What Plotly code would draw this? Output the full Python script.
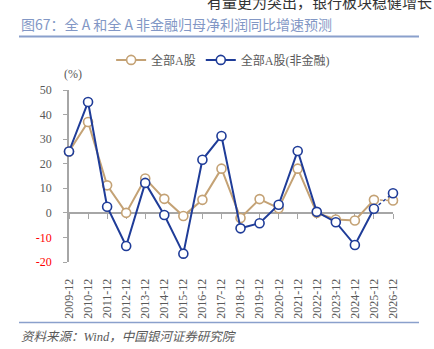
import plotly.graph_objects as go

categories = ["2009-12", "2010-12", "2011-12", "2012-12", "2013-12", "2014-12",
              "2015-12", "2016-12", "2017-12", "2018-12", "2019-12", "2020-12",
              "2021-12", "2022-12", "2023-12", "2024-12", "2025-12", "2026-12"]
all_a = [25.0, 37.0, 11.2, 0.0, 14.0, 5.7, -1.3, 5.3, 18.0, -2.1, 5.6, 1.9,
         18.0, 0.0, -2.7, -3.1, 5.3, 5.0]
all_a_nonfin = [25.0, 45.1, 2.5, -13.5, 12.2, -0.9, -16.6, 21.6, 31.3, -6.3, -4.2, 3.3,
                25.2, 0.4, -3.8, -13.1, 1.7, 8.0]
y_ticks = [50, 40, 30, 20, 10, 0, -10, -20]

GOLD = "#C4A275"
BLUE = "#1F3C98"
GRAY = "#595959"
FONT = "Liberation Serif, Noto Sans CJK SC"

xs = list(range(len(categories)))
n_solid = len(categories) - 1  # last segment is forecast (dotted)

fig = go.Figure()
for name, vals, col in [("全部A股", all_a, GOLD), ("全部A股(非金融)", all_a_nonfin, BLUE)]:
    fig.add_trace(go.Scatter(
        x=xs[n_solid - 1:], y=vals[n_solid - 1:], mode="lines", showlegend=False,
        line=dict(color=col, width=1.5, dash="dot"), cliponaxis=False, hoverinfo="skip",
    ))
for name, vals, col in [("全部A股", all_a, GOLD), ("全部A股(非金融)", all_a_nonfin, BLUE)]:
    fig.add_trace(go.Scatter(
        x=xs[:n_solid], y=vals[:n_solid], name=name, mode="lines+markers",
        line=dict(color=col, width=2), cliponaxis=False,
        marker=dict(symbol="circle", size=9, color="white", line=dict(color=col, width=1.6)),
    ))
for name, vals, col in [("全部A股", all_a, GOLD), ("全部A股(非金融)", all_a_nonfin, BLUE)]:
    fig.add_trace(go.Scatter(
        x=xs[n_solid:], y=vals[n_solid:], mode="markers", showlegend=False, cliponaxis=False,
        marker=dict(symbol="circle", size=9, color="white", line=dict(color=col, width=1.6)),
    ))

# invisible helper trace for the zero-line category axis
fig.add_trace(go.Scatter(x=[0], y=[0], xaxis="x2", yaxis="y", mode="markers",
                         marker=dict(opacity=0), showlegend=False, hoverinfo="skip"))

ticktext_y = []
for v in y_ticks:
    c = "red" if v < 0 else GRAY
    ticktext_y.append(f"<span style='color:{c}'>{v}</span>")

fig.update_layout(
    width=434, height=349,
    margin=dict(l=69, r=41, t=90, b=87),
    paper_bgcolor="white", plot_bgcolor="white",
    font=dict(family=FONT, color=GRAY, size=11),
    xaxis=dict(range=[0, len(categories) - 1], tickvals=xs, ticktext=categories,
               tickangle=-90, showline=False, showgrid=False, zeroline=False,
               ticks="outside", ticklen=11, tickcolor="rgba(0,0,0,0)",
               tickfont=dict(size=12, color=GRAY, family=FONT)),
    xaxis2=dict(range=[0, len(categories) - 1], overlaying="x", anchor="free",
                position=20 / 70, tickvals=xs, showticklabels=False,
                showline=True, linecolor="#A6A6A6", linewidth=1.5,
                ticks="outside", ticklen=5, tickcolor="#A6A6A6", tickwidth=1.2,
                showgrid=False, zeroline=False, layer="below traces"),
    yaxis=dict(range=[-20, 50], tickvals=y_ticks, ticktext=ticktext_y,
               showline=True, linecolor="#A6A6A6", linewidth=1.5,
               ticks="outside", ticklen=4, tickcolor="#A6A6A6",
               ticklabelstandoff=9, layer="below traces",
               showgrid=False, zeroline=False,
               tickfont=dict(size=12, family=FONT)),
    legend=dict(orientation="h", x=0.13, xanchor="left", y=1.175, yanchor="middle",
                font=dict(size=12, color=GRAY, family=FONT), bgcolor="rgba(0,0,0,0)",
                itemwidth=30, tracegroupgap=0),
    showlegend=True,
)

fig.add_annotation(text="(%)", xref="paper", yref="paper", x=(73 - 69) / 324, y=(262 - 74) / 172,
                   xanchor="center", yanchor="middle", showarrow=False,
                   font=dict(size=12, color=GRAY, family=FONT))
fig.add_annotation(text="图67：全 A 和全 A 非金融归母净利润同比增速预测",
                   xref="paper", yref="paper", x=(19 - 69) / 324, y=(262 - 24) / 172,
                   xanchor="left", yanchor="middle", showarrow=False,
                   font=dict(size=14, color="#8297C5", family="Noto Sans CJK SC"))
fig.add_annotation(text="有量更为突出，银行板块稳健增长",
                   xref="paper", yref="paper", x=(205 - 69) / 324, y=(262 - 1) / 172,
                   xanchor="left", yanchor="middle", showarrow=False,
                   font=dict(size=15, color="#333333", family="Noto Sans CJK SC"))
fig.add_annotation(text="<i>资料来源：Wind，中国银河证券研究院</i>",
                   xref="paper", yref="paper", x=(19 - 69) / 324, y=(262 - 337) / 172,
                   xanchor="left", yanchor="middle", showarrow=False,
                   font=dict(size=12.5, color="#595959", family=FONT))
fig.add_shape(type="line", xref="paper", yref="paper",
              x0=(19 - 69) / 324, x1=(419 - 69) / 324,
              y0=(262 - 36.5) / 172, y1=(262 - 36.5) / 172,
              line=dict(color="#8AA0CC", width=2))
fig.add_shape(type="line", xref="paper", yref="paper",
              x0=(19 - 69) / 324, x1=(419 - 69) / 324,
              y0=(262 - 322.5) / 172, y1=(262 - 322.5) / 172,
              line=dict(color="#8AA0CC", width=1.5))

fig.write_html("out.html")
